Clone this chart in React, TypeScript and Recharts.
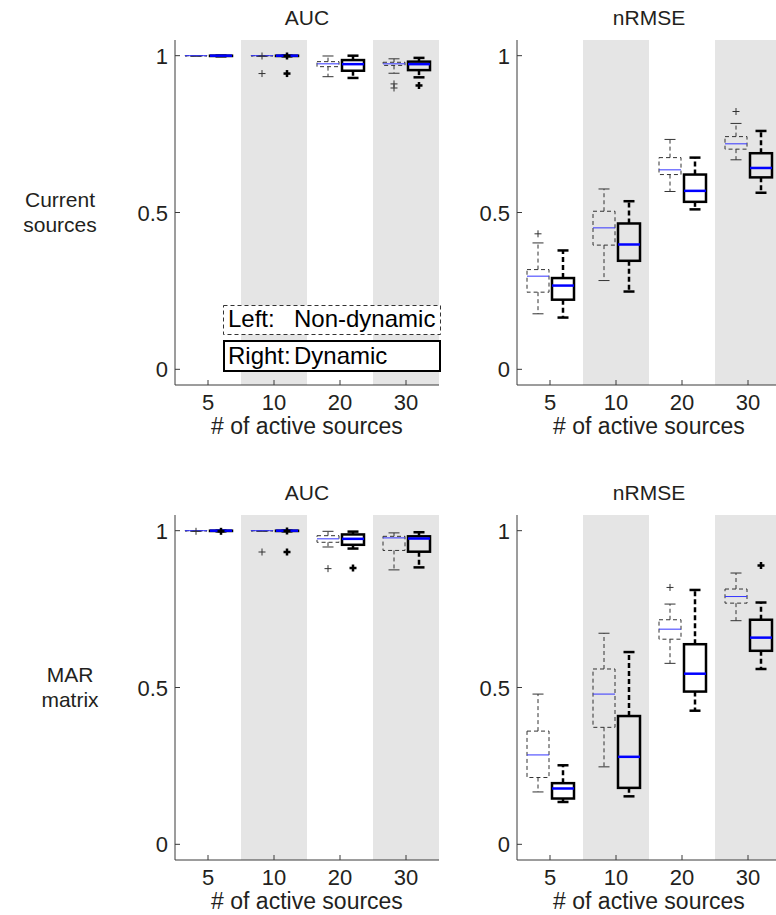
import { ComposedChart, Bar, XAxis, YAxis, ReferenceArea } from 'recharts';

const categories = ['5', '10', '20', '30'];
const shadedCategories = ['10', '30'];
const yTicks = [0, 0.5, 1];

// box stats: [lower whisker, q1, median, q3, upper whisker]
const aucCurrentStatic = [
  [0.998, 0.999, 1.0, 1.0, 1.0],
  [0.998, 0.999, 1.0, 1.0, 1.0],
  [0.933, 0.965, 0.974, 0.981, 0.999],
  [0.944, 0.969, 0.974, 0.979, 0.99],
];
const aucCurrentStaticOut = [[], [0.999, 0.943], [], [0.91, 0.897]];
const aucCurrentDynamic = [
  [0.998, 0.999, 1.0, 1.0, 1.0],
  [0.998, 0.999, 1.0, 1.0, 1.0],
  [0.929, 0.952, 0.973, 0.986, 1.0],
  [0.931, 0.954, 0.973, 0.981, 0.993],
];
const aucCurrentDynamicOut = [[], [0.999, 0.943], [], [0.905]];

const rmseCurrentStatic = [
  [0.177, 0.246, 0.297, 0.318, 0.403],
  [0.283, 0.396, 0.451, 0.504, 0.575],
  [0.567, 0.621, 0.636, 0.675, 0.733],
  [0.668, 0.702, 0.719, 0.742, 0.784],
];
const rmseCurrentStaticOut = [[0.432], [], [], [0.822]];
const rmseCurrentDynamic = [
  [0.165, 0.222, 0.267, 0.291, 0.379],
  [0.248, 0.346, 0.398, 0.465, 0.536],
  [0.51, 0.534, 0.569, 0.621, 0.675],
  [0.563, 0.612, 0.642, 0.689, 0.76],
];
const rmseCurrentDynamicOut = [[], [], [], []];

const aucMarStatic = [
  [0.998, 0.999, 1.0, 1.0, 1.0],
  [0.998, 0.999, 1.0, 1.0, 1.0],
  [0.948, 0.963, 0.974, 0.984, 0.998],
  [0.875, 0.937, 0.977, 0.982, 0.993],
];
const aucMarStaticOut = [[0.998], [0.932], [0.879], []];
const aucMarDynamic = [
  [0.998, 0.999, 1.0, 1.0, 1.0],
  [0.998, 0.999, 1.0, 1.0, 1.0],
  [0.943, 0.955, 0.974, 0.988, 0.997],
  [0.883, 0.933, 0.975, 0.982, 0.995],
];
const aucMarDynamicOut = [[0.998], [0.999, 0.932], [0.881], []];

const rmseMarStatic = [
  [0.167, 0.213, 0.285, 0.361, 0.479],
  [0.247, 0.373, 0.479, 0.559, 0.673],
  [0.577, 0.654, 0.686, 0.716, 0.766],
  [0.713, 0.769, 0.79, 0.814, 0.865],
];
const rmseMarStaticOut = [[], [], [0.819], []];
const rmseMarDynamic = [
  [0.135, 0.146, 0.178, 0.195, 0.252],
  [0.153, 0.18, 0.279, 0.409, 0.613],
  [0.426, 0.487, 0.544, 0.638, 0.811],
  [0.559, 0.617, 0.659, 0.716, 0.771],
];
const rmseMarDynamicOut = [[], [], [], [0.889]];

const FONT = '"Liberation Sans", Arial, Helvetica, sans-serif';
const TEXT = '#231f20';
const AXIS = '#3a3a3a';

type Box = { stats: number[]; outliers: number[] };
type Row = { cat: string; nd: Box; d: Box };

function buildRows(nd: number[][], ndOut: number[][], d: number[][], dOut: number[][]): Row[] {
  return categories.map((cat, i) => ({
    cat,
    nd: { stats: nd[i], outliers: ndOut[i] },
    d: { stats: d[i], outliers: dOut[i] },
  }));
}

const extent = (b: Box): [number, number] => [
  Math.min(b.stats[0], ...b.outliers),
  Math.max(b.stats[4], ...b.outliers),
];

// one Bar spans the box's full extent; the shape maps each statistic inside it
function BoxShape(props: any) {
  const { x, y, width, height, payload, kind } = props;
  const box: Box = payload[kind];
  const [lo, hi] = extent(box);
  const toY = (v: number) => (hi === lo ? y : y + ((hi - v) / (hi - lo)) * height);
  const [wl, q1, med, q3, wh] = box.stats;
  const dyn = kind === 'd';
  const sw = dyn ? 2.5 : 1;
  const stroke = dyn ? '#000' : '#333';
  const dash = dyn ? '5 3' : '4 3';
  const cx = x + width / 2;
  const cap = 5.5;
  const ps = 3.5;
  return (
    <g>
      <line x1={cx} x2={cx} y1={toY(q3)} y2={toY(wh)} stroke={stroke} strokeWidth={sw} strokeDasharray={dash} />
      <line x1={cx} x2={cx} y1={toY(q1)} y2={toY(wl)} stroke={stroke} strokeWidth={sw} strokeDasharray={dash} />
      <line x1={cx - cap} x2={cx + cap} y1={toY(wh)} y2={toY(wh)} stroke={stroke} strokeWidth={sw} />
      <line x1={cx - cap} x2={cx + cap} y1={toY(wl)} y2={toY(wl)} stroke={stroke} strokeWidth={sw} />
      <rect
        x={x}
        y={toY(q3)}
        width={width}
        height={Math.max(toY(q1) - toY(q3), 0)}
        fill="none"
        stroke={stroke}
        strokeWidth={sw}
        strokeDasharray={dyn ? undefined : dash}
      />
      <line x1={x} x2={x + width} y1={toY(med)} y2={toY(med)} stroke={dyn ? '#0000ff' : '#3535ff'} strokeWidth={sw} />
      {box.outliers.map((o, i) => (
        <g key={i} stroke={stroke} strokeWidth={sw}>
          <line x1={cx - ps} x2={cx + ps} y1={toY(o)} y2={toY(o)} />
          <line x1={cx} x2={cx} y1={toY(o) - ps} y2={toY(o) + ps} />
        </g>
      ))}
    </g>
  );
}

function YTick(props: any) {
  const { x, y, payload } = props;
  const ax = x + 7;
  return (
    <g>
      <line x1={ax} x2={ax + 5} y1={y} y2={y} stroke={AXIS} />
      <text x={x} y={y + 8} textAnchor="end" fontSize={22} fontFamily={FONT} fill={TEXT}>
        {String(payload.value)}
      </text>
    </g>
  );
}

function XTick(props: any) {
  const { x, y, payload } = props;
  return (
    <g>
      <line x1={x} x2={x} y1={y} y2={y - 5} stroke={AXIS} />
      <text x={x} y={y + 25} textAnchor="middle" fontSize={22} fontFamily={FONT} fill={TEXT}>
        {payload.value}
      </text>
    </g>
  );
}

function Panel({ rows, left, top }: { rows: Row[]; left: number; top: number }) {
  return (
    <div style={{ position: 'absolute', left, top }}>
      <ComposedChart
        width={330}
        height={410}
        data={rows}
        margin={{ top: 10, right: 11, bottom: 0, left: 0 }}
        barSize={22}
        barGap={3}
      >
        {shadedCategories.map((c) => (
          <ReferenceArea key={c} x1={c} x2={c} fill="#e5e5e5" fillOpacity={1} stroke="none" />
        ))}
        <XAxis
          dataKey="cat"
          height={55}
          interval={0}
          tickLine={false}
          tickSize={0}
          tickMargin={0}
          axisLine={{ stroke: AXIS }}
          tick={<XTick />}
        />
        <YAxis
          type="number"
          width={55}
          domain={[-0.05, 1.05]}
          allowDataOverflow
          ticks={yTicks}
          tickLine={false}
          tickSize={0}
          tickMargin={7}
          axisLine={{ stroke: AXIS }}
          tick={<YTick />}
        />
        <Bar
          dataKey={(r: Row) => extent(r.nd)}
          isAnimationActive={false}
          shape={(p: any) => <BoxShape {...p} kind="nd" />}
        />
        <Bar
          dataKey={(r: Row) => extent(r.d)}
          isAnimationActive={false}
          shape={(p: any) => <BoxShape {...p} kind="d" />}
        />
      </ComposedChart>
    </div>
  );
}

const panels = [
  { rows: buildRows(aucCurrentStatic, aucCurrentStaticOut, aucCurrentDynamic, aucCurrentDynamicOut), left: 120, top: 30 },
  { rows: buildRows(rmseCurrentStatic, rmseCurrentStaticOut, rmseCurrentDynamic, rmseCurrentDynamicOut), left: 462, top: 30 },
  { rows: buildRows(aucMarStatic, aucMarStaticOut, aucMarDynamic, aucMarDynamicOut), left: 120, top: 505 },
  { rows: buildRows(rmseMarStatic, rmseMarStaticOut, rmseMarDynamic, rmseMarDynamicOut), left: 462, top: 505 },
];

export default function App() {
  const label = (x: number, y: number, s: string, size = 22) => (
    <text x={x} y={y} textAnchor="middle" fontSize={size} fontFamily={FONT} fill={TEXT}>
      {s}
    </text>
  );
  return (
    <div
      style={{
        position: 'fixed',
        left: 0,
        top: 0,
        width: 776,
        height: 915,
        overflow: 'hidden',
        background: '#fff',
      }}
    >
      {panels.map((p, i) => (
        <Panel key={i} rows={p.rows} left={p.left} top={p.top} />
      ))}
      <svg width={776} height={915} style={{ position: 'absolute', left: 0, top: 0, pointerEvents: 'none' }}>
        {label(307, 25, 'AUC', 21)}
        {label(649, 25, 'nRMSE', 21)}
        {label(307, 500, 'AUC', 21)}
        {label(649, 500, 'nRMSE', 21)}
        {label(307, 434, '# of active sources', 23)}
        {label(649, 434, '# of active sources', 23)}
        {label(307, 909, '# of active sources', 23)}
        {label(649, 909, '# of active sources', 23)}
        {label(60, 207, 'Current', 21)}
        {label(60, 232, 'sources', 21)}
        {label(70, 682, 'MAR', 21)}
        {label(70, 707, 'matrix', 21)}
        <rect x={223.5} y={305.5} width={217} height={29} fill="#fff" stroke="#333" strokeDasharray="4 3" />
        <rect x={224} y={341} width={216} height={30} fill="#fff" stroke="#000" strokeWidth={2} />
        <text x={228} y={327} fontSize={24} fontFamily={FONT} fill="#000">Left:</text>
        <text x={294} y={327} fontSize={24} fontFamily={FONT} fill="#000">Non-dynamic</text>
        <text x={228} y={364} fontSize={24} fontFamily={FONT} fill="#000">Right:</text>
        <text x={294} y={364} fontSize={24} fontFamily={FONT} fill="#000">Dynamic</text>
      </svg>
    </div>
  );
}
